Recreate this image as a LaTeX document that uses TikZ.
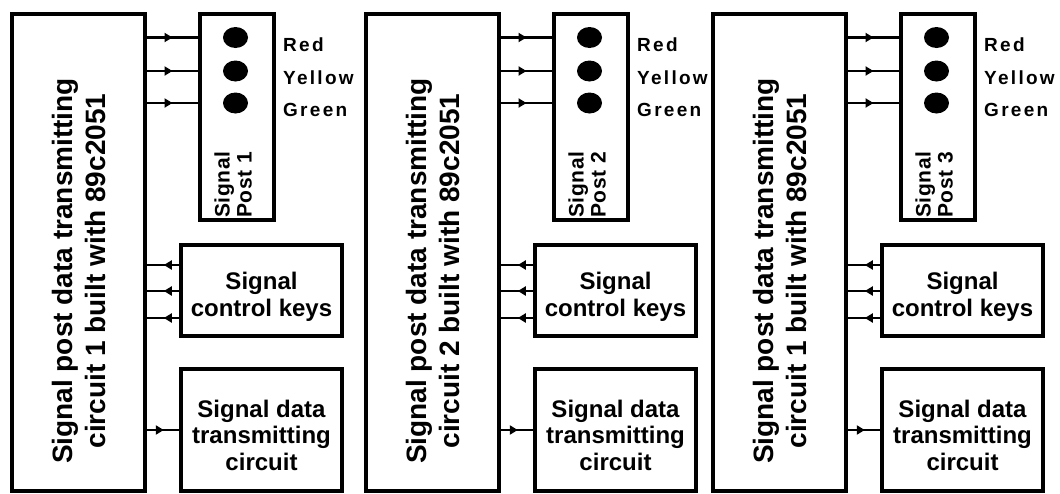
\documentclass[tikz,border=0pt]{standalone}
\usepackage{fontspec}
\setmainfont{Liberation Sans}
\usetikzlibrary{decorations.markings,arrows.meta,shapes.geometric}
\begin{document}
\begin{tikzpicture}[x=1pt,y=-1pt,
  box/.style={draw, line width=3.2pt, inner sep=0pt},
  wire/.style={line width=2.6pt, postaction={decorate},
    decoration={markings, mark=at position 0.5 with {\arrow{Triangle[length=8pt,width=9pt]}}}},
  dotlamp/.style={fill, ellipse, minimum width=25pt, minimum height=21pt, inner sep=0pt},
  bigtxt/.style={align=center, inner sep=0pt, font=\fontsize{28}{33}\selectfont\bfseries},
  midtxt/.style={align=center, inner sep=0pt, font=\fontsize{24}{26.5}\selectfont\bfseries},
  lamplab/.style={anchor=west, inner sep=0pt, font=\fontsize{19}{22}\selectfont\bfseries\addfontfeatures{LetterSpace=12}},
  posttxt/.style={rotate=90, anchor=west, align=left, inner sep=0pt,
    font=\fontsize{21}{22}\selectfont\bfseries\addfontfeatures{LetterSpace=3}}]
\useasboundingbox[fill=white] (0,0) rectangle (1060,493);
\foreach \u/\dx/\c in {1/12/1, 2/366/2, 3/713/1} {
\begin{scope}[xshift=\dx pt]
  % main controller box
  \node[box, minimum width=133pt, minimum height=477pt] (big\u) at (66.5,252.5) {};
  \node[bigtxt, rotate=90] (bigt\u) at (67,271) {Signal post data transmitting\\circuit \c\ built with 89c2051};
  % signal post
  \node[box, minimum width=74pt, minimum height=206pt] (post\u) at (225,117) {};
  \node[dotlamp] (red\u) at (223.5,37.5) {};
  \node[dotlamp] (yel\u) at (223.5,71) {};
  \node[dotlamp] (grn\u) at (223.5,103) {};
  \node[lamplab] (redl\u) at (271,45) {Red};
  \node[lamplab] (yell\u) at (271,78) {Yellow};
  \node[lamplab] (grnl\u) at (271,110) {Green};
  \node[posttxt] (postt\u) at (221,218) {Signal\\Post \u};
  % signal control keys
  \node[box, minimum width=161pt, minimum height=91pt] (keys\u) at (249.5,290.5) {};
  \node[midtxt] (keyst\u) at (249.5,297) {Signal\\control keys};
  % data transmitting circuit
  \node[box, minimum width=161pt, minimum height=122pt] (data\u) at (249.5,430) {};
  \node[midtxt] (datat\u) at (249.5,435) {Signal data\\transmitting\\circuit};
  \coordinate (ka\u) at (169,265);
  \coordinate (kb\u) at (169,291);
  \coordinate (kc\u) at (169,318);
  \coordinate (da\u) at (169,430);
\end{scope}
  \draw[wire] (red\u -| big\u.east) -- (red\u -| post\u.west);
  \draw[wire] (yel\u -| big\u.east) -- (yel\u -| post\u.west);
  \draw[wire] (grn\u -| big\u.east) -- (grn\u -| post\u.west);
  \draw[wire] (ka\u) -- (ka\u -| big\u.east);
  \draw[wire] (kb\u) -- (kb\u -| big\u.east);
  \draw[wire] (kc\u) -- (kc\u -| big\u.east);
  \draw[wire] (da\u -| big\u.east) -- (da\u);
}
\end{tikzpicture}
\end{document}
